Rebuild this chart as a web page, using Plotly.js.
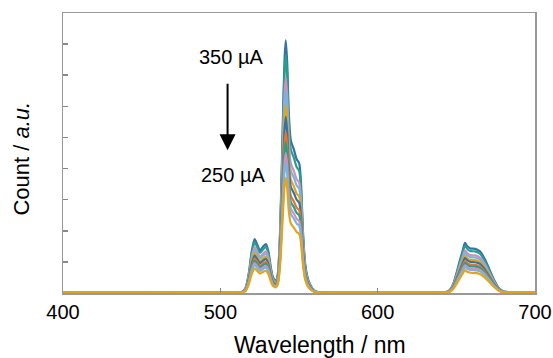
<!DOCTYPE html>
<html>
<head>
<meta charset="utf-8">
<script src="https://cdn.plot.ly/plotly-3.0.1.min.js"></script>
<style>html,body{margin:0;padding:0;background:#fff;}#chart{width:553px;height:358px;}</style>
</head>
<body>
<div id="chart"></div>
<script>
// Wavelength sample points (nm)
const wavelength = [400, 450, 510, 514, 516, 518, 520, 521.8, 523.5, 525.2, 527, 528.9, 530.5, 532, 533.5, 535.2, 536.5, 538, 539.5, 540.8, 541.6, 542.5, 543.5, 544.8, 546.8, 548.5, 550.1, 551.2, 552.5, 554, 556, 558.5, 561, 570, 600, 640, 644, 646, 648, 650, 652, 654, 655.5, 657, 659, 662, 665, 668, 671, 674, 677, 680, 684, 700];
// Spectrum at 350 uA (a.u.)
const profile350 = [0.03, 0.03, 0.03, 0.04, 0.15, 0.6, 1.35, 1.73, 1.55, 1.37, 1.48, 1.57, 1.35, 0.85, 0.5, 0.4, 0.6, 2.0, 5.0, 7.5, 8.12, 7.4, 5.8, 4.9, 4.6, 4.3, 4.17, 3.6, 2.0, 0.9, 0.4, 0.15, 0.04, 0.03, 0.03, 0.03, 0.04, 0.1, 0.28, 0.62, 1.0, 1.36, 1.61, 1.5, 1.43, 1.42, 1.34, 1.1, 0.76, 0.42, 0.16, 0.05, 0.03, 0.03];
// Drive currents and main-peak heights
const currents = ['350 µA', '340 µA', '330 µA', '320 µA', '310 µA', '300 µA', '290 µA', '280 µA', '270 µA', '260 µA', '250 µA'];
const peakHeights = [8.12, 7.65, 6.91, 6.53, 6.04, 5.66, 5.18, 4.86, 4.50, 4.21, 3.70];
const colors = ['#3572a5', '#26a08c', '#d48fbf', '#7ab3e0', '#e2a51c', '#3572a5', '#e8742a', '#26a08c', '#d48fbf', '#7ab3e0', '#e2a51c'];

const traces = currents.map((c, i) => ({
  type: 'scatter', mode: 'lines', name: c,
  x: wavelength,
  y: profile350.map(v => v * peakHeights[i] / peakHeights[0]),
  line: {color: colors[i], width: 2.2, shape: 'spline', smoothing: 0.7},
  hoverinfo: 'skip'
}));

const font = {family: 'Liberation Sans, Arial, sans-serif', color: '#000'};
const layout = {
  width: 553, height: 358,
  margin: {l: 63, r: 18, t: 13, b: 65},
  paper_bgcolor: '#fff', plot_bgcolor: '#fff',
  showlegend: false,
  font: font,
  xaxis: {
    range: [400, 700], tickvals: [400, 500, 600, 700], ticks: 'inside', ticklen: 5,
    tickcolor: '#888', tickwidth: 1.5, showline: true, linecolor: '#999', linewidth: 1.5, mirror: true,
    showgrid: false, zeroline: false, ticklabeloverflow: 'allow',
    tickfont: {size: 20, family: font.family, color: '#000'}
  },
  yaxis: {
    range: [0, 9], dtick: 1, tick0: 0, ticks: 'inside', ticklen: 5, tickcolor: '#888', tickwidth: 1.5,
    showline: true, linecolor: '#999', linewidth: 1.5, mirror: true, showgrid: false, zeroline: false,
    showticklabels: false
  },
  annotations: [
    {xref: 'x', yref: 'y', x: 504.6, y: 4.59, ax: 0, ay: -68, showarrow: true, arrowhead: 2, arrowsize: 1.6, arrowwidth: 2, arrowcolor: '#000', text: ''},
    {xref: 'x', yref: 'y', x: 507.0, y: 7.58, text: '350 µA', showarrow: false, font: {size: 20, family: font.family, color: '#000'}},
    {xref: 'x', yref: 'y', x: 508.0, y: 3.78, text: '250 µA', showarrow: false, font: {size: 20, family: font.family, color: '#000'}},
    {xref: 'paper', yref: 'paper', x: 0.545, y: -0.185, xanchor: 'center', yanchor: 'middle', text: 'Wavelength / nm', showarrow: false, font: {size: 23, family: font.family, color: '#000'}},
    {xref: 'paper', yref: 'paper', x: -0.087, y: 0.48, xanchor: 'center', yanchor: 'middle', textangle: -90, text: 'Count / <i>a.u.</i>', showarrow: false, font: {size: 22, family: font.family, color: '#000'}}
  ]
};
Plotly.newPlot('chart', traces, layout, {staticPlot: true, displayModeBar: false});
</script>
</body>
</html>
